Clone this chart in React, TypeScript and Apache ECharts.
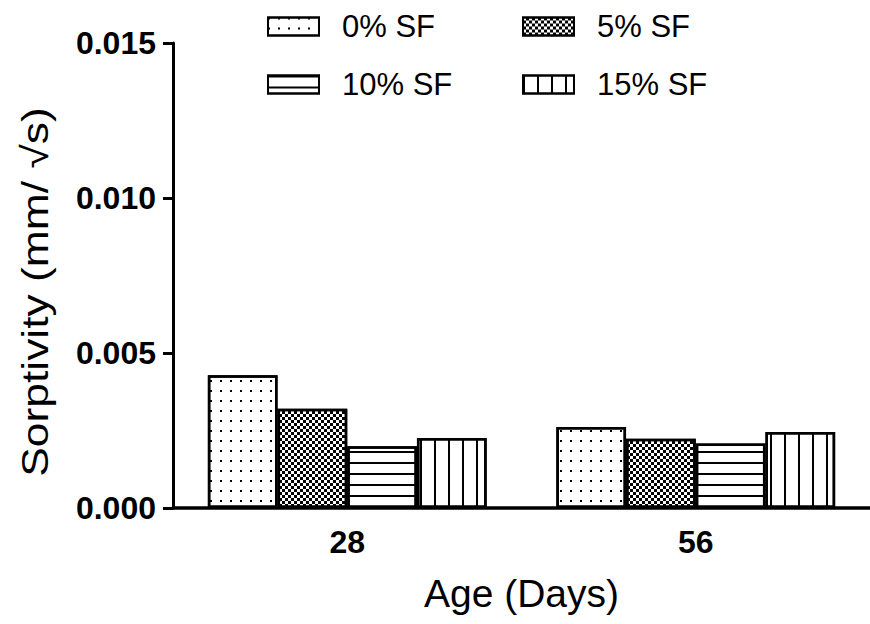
import React, { useEffect, useRef } from "react";
import * as echarts from "echarts";

// Curing age groups and sorptivity values (mm/√s) per silica fume content
const categories = ["28", "56"];
const sf0 = [0.00428, 0.00261];
const sf5 = [0.0032, 0.00223];
const sf10 = [0.00199, 0.00208];
const sf15 = [0.00226, 0.00245];
const seriesNames = ["0% SF", "5% SF", "10% SF", "15% SF"];
const yTicks = { min: 0, max: 0.015, interval: 0.005 };
const yTitle = "Sorptivity (mm/ √s)";
const xTitle = "Age (Days)";

const FONT = "'Liberation Sans', Arial, sans-serif";

// Hatch fills for each mix
const decals: any[] = [
  // sparse dots
  {
    symbol: "rect",
    symbolSize: 1,
    color: "#000",
    backgroundColor: "#fff",
    dashArrayX: [2, 7.5],
    dashArrayY: [2, 8],
  },
  // dense checker
  {
    symbol: "rect",
    symbolSize: 1,
    color: "#000",
    backgroundColor: "#fff",
    dashArrayX: [
      [3, 3],
      [0, 3, 3, 0],
    ],
    dashArrayY: [3, 0],
  },
  // horizontal lines
  {
    symbol: "rect",
    symbolSize: 1,
    color: "#000",
    backgroundColor: "#fff",
    dashArrayX: [1, 0],
    dashArrayY: [1.6, 8.4],
  },
  // vertical lines
  {
    symbol: "rect",
    symbolSize: 1,
    color: "#000",
    backgroundColor: "#fff",
    dashArrayX: [1.6, 11.8],
    dashArrayY: [1, 0],
  },
];

export default function App() {
  const ref = useRef<HTMLDivElement>(null);

  useEffect(() => {
    if (!ref.current) return;
    const chart = echarts.init(ref.current, undefined, { renderer: "svg" });
    const values = [sf0, sf5, sf10, sf15];

    const legendPos = [
      { left: 262, top: 6 },
      { left: 517, top: 6 },
      { left: 262, top: 64 },
      { left: 517, top: 64 },
    ];

    chart.setOption({
      animation: false,
      backgroundColor: "#fff",
      legend: seriesNames.map((name, i) => ({
        data: [name],
        left: legendPos[i].left,
        top: legendPos[i].top,
        itemWidth: 51,
        itemHeight: 18,
        icon: "rect",
        selectedMode: false,
        textStyle: {
          fontFamily: FONT,
          fontSize: 31,
          color: "#000",
          padding: [0, 0, 0, 18],
        },
      })),
      // rotated y-axis title, stretched along its reading direction
      graphic: [
        {
          type: "text",
          x: 35,
          y: 292,
          rotation: Math.PI / 2,
          scaleX: 1.2,
          style: {
            text: yTitle,
            font: `37px ${FONT}`,
            fill: "#000",
            textAlign: "center",
            textVerticalAlign: "middle",
          },
        },
      ],
      grid: { left: 173, right: 0, top: 43, bottom: 116, containLabel: false },
      xAxis: {
        type: "category",
        data: categories,
        name: xTitle,
        nameLocation: "middle",
        nameGap: 66,
        nameTextStyle: { fontFamily: FONT, fontSize: 39, color: "#000" },
        axisLine: { lineStyle: { color: "#000", width: 3.5 } },
        axisTick: {
          alignWithLabel: true,
          length: 13,
          lineStyle: { color: "#000", width: 3 },
        },
        axisLabel: {
          margin: 18,
          fontFamily: FONT,
          fontSize: 32,
          fontWeight: "bold",
          color: "#000",
        },
      },
      yAxis: {
        type: "value",
        min: yTicks.min,
        max: yTicks.max,
        interval: yTicks.interval,
        axisLine: { show: true, lineStyle: { color: "#000", width: 3 } },
        axisTick: {
          show: true,
          length: 10,
          lineStyle: { color: "#000", width: 3 },
        },
        splitLine: { show: false },
        axisLabel: {
          margin: 17,
          fontFamily: FONT,
          fontSize: 32,
          fontWeight: "bold",
          color: "#000",
          formatter: (v: number) => v.toFixed(3),
        },
      },
      series: seriesNames.map((name, i) => ({
        name,
        type: "bar",
        data: values[i],
        barGap: "0%",
        barCategoryGap: "20%",
        itemStyle: {
          color: "#fff",
          borderColor: "#000",
          borderWidth: 2.5,
          decal: decals[i],
        },
      })),
    });

    return () => chart.dispose();
  }, []);

  return (
    <div
      ref={ref}
      style={{ position: "fixed", left: 0, top: 0, width: 870, height: 624 }}
    />
  );
}
